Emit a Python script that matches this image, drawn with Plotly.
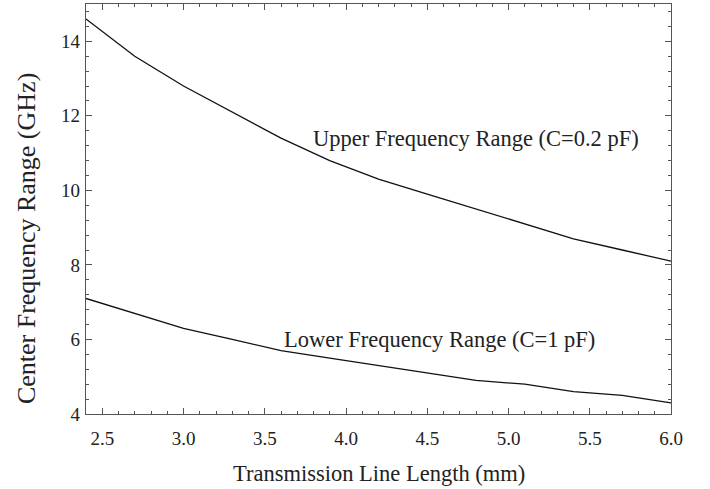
import plotly.graph_objects as go

length_mm = [2.4, 2.7, 3.0, 3.3, 3.6, 3.9, 4.2, 4.5, 4.8, 5.1, 5.4, 5.7, 6.0]
upper_ghz = [14.6, 13.6, 12.8, 12.1, 11.4, 10.8, 10.3, 9.9, 9.5, 9.1, 8.7, 8.4, 8.1]
lower_ghz = [7.1, 6.7, 6.3, 6.0, 5.7, 5.5, 5.3, 5.1, 4.9, 4.8, 4.6, 4.5, 4.3]

x_ticks = [2.5, 3.0, 3.5, 4.0, 4.5, 5.0, 5.5, 6.0]
x_ticklabels = ["2.5", "3.0", "3.5", "4.0", "4.5", "5.0", "5.5", "6.0"]
y_ticks = [4, 6, 8, 10, 12, 14]

FONT = "Liberation Serif"
TXT = "#222222"

fig = go.Figure()
fig.add_trace(go.Scatter(x=length_mm, y=upper_ghz, mode="lines",
                         line=dict(color="#111111", width=1.3), showlegend=False))
fig.add_trace(go.Scatter(x=length_mm, y=lower_ghz, mode="lines",
                         line=dict(color="#111111", width=1.3), showlegend=False))

fig.add_annotation(x=4.80, y=11.40, text="Upper Frequency Range (C=0.2 pF)",
                   showarrow=False, font=dict(family=FONT, size=22.5, color=TXT))
fig.add_annotation(x=4.575, y=6.0, text="Lower Frequency Range (C=1 pF)",
                   showarrow=False, font=dict(family=FONT, size=22.5, color=TXT))

# axis titles
fig.add_annotation(xref="paper", yref="paper", x=0.5, y=-0.144, yanchor="middle",
                   text="Transmission Line Length (mm)", showarrow=False,
                   font=dict(family=FONT, size=22.5, color=TXT))
fig.add_annotation(xref="paper", yref="paper", x=-0.1026, y=0.429, xanchor="center",
                   yanchor="middle", textangle=-90,
                   text="Center Frequency Range (GHz)", showarrow=False,
                   font=dict(family=FONT, size=26, color=TXT))

axis_common = dict(
    showline=True, linecolor="#555", linewidth=1.2, mirror="ticks",
    ticks="inside", tickcolor="#555", tickwidth=1, ticklen=6,
    showgrid=False, zeroline=False,
    tickfont=dict(family=FONT, size=19, color=TXT),
)

fig.update_xaxes(
    range=[2.4, 6.0], tickvals=x_ticks, ticktext=x_ticklabels,
    minor=dict(dtick=0.1, tick0=2.4, ticks="inside", ticklen=3, tickcolor="#555", showgrid=False),
    ticklabelstandoff=7,
    **axis_common,
)
fig.update_yaxes(
    range=[4, 15], tickvals=y_ticks,
    minor=dict(dtick=0.4, tick0=4, ticks="inside", ticklen=3, tickcolor="#555", showgrid=False),
    ticklabelstandoff=1,
    **axis_common,
)

fig.update_layout(
    width=710, height=489,
    margin=dict(l=86, r=39, t=4, b=75),
    paper_bgcolor="white", plot_bgcolor="white",
)

fig.write_html("out.html")
